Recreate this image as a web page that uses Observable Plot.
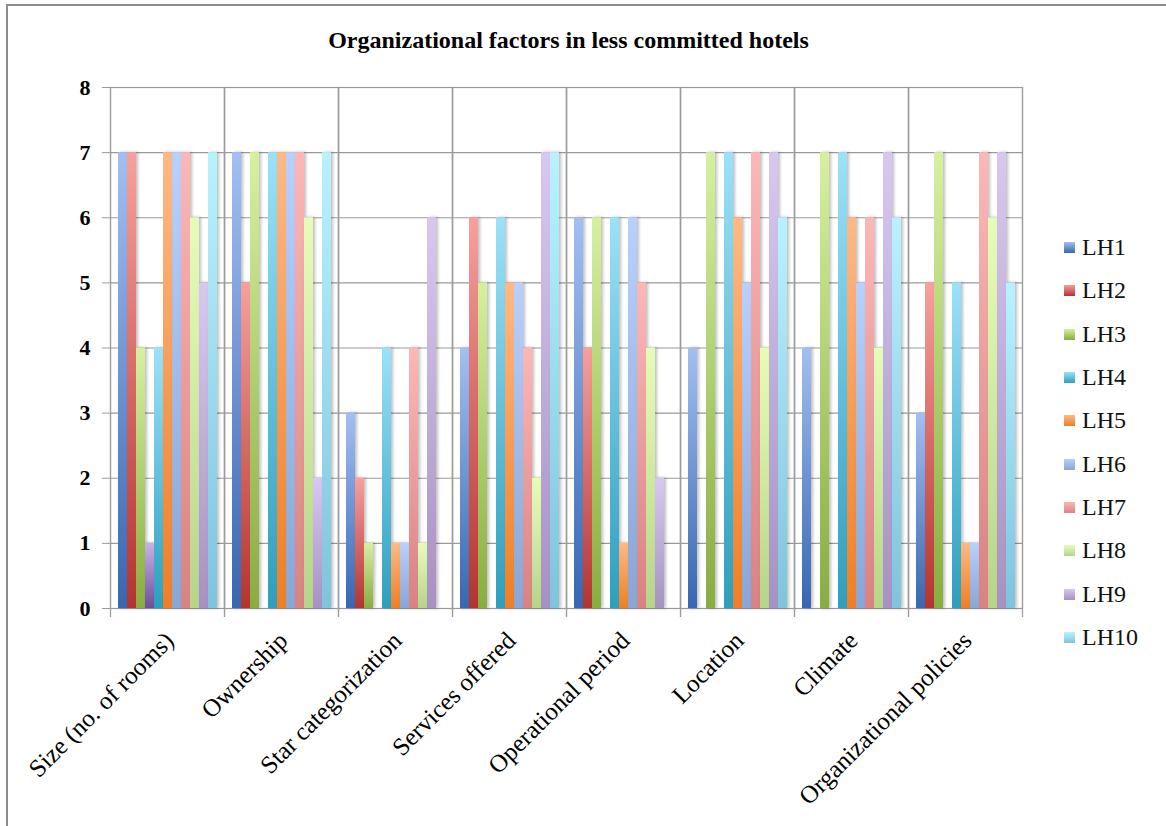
<!DOCTYPE html>
<html>
<head>
<meta charset="utf-8">
<script src="https://cdn.jsdelivr.net/npm/d3@7"></script>
<script src="https://cdn.jsdelivr.net/npm/@observablehq/plot@0.6"></script>
<style>
  html, body { margin: 0; padding: 0; background: #fff; }
  #wrap { position: relative; width: 1166px; height: 826px; overflow: hidden; font-family: "Liberation Serif", "DejaVu Serif", serif; }
  #border { position: absolute; left: 6px; top: 4px; width: 1200px; height: 900px; border: 2px solid #8c8c8c; box-sizing: border-box; }
  #title { position: absolute; left: 0; width: 1137px; top: 27px; text-align: center; font-family: "Liberation Serif", "DejaVu Serif", serif; font-weight: bold; font-size: 24px; color: #000; }
  #chart { position: absolute; left: 0; top: 0; }
  #legend { position: absolute; left: 1064px; top: 226px; font-family: "Liberation Serif", "DejaVu Serif", serif; }
  .lrow { height: 43.3px; display: flex; align-items: center; font-family: "Liberation Serif", "DejaVu Serif", serif; font-size: 24px; color: #111; }
  .sw { width: 11px; height: 11px; margin-right: 7px; }
</style>
</head>
<body>
<div id="wrap">
  <div id="border"></div>
  <div id="title"></div>
  <div id="chart"></div>
  <div id="legend"></div>
</div>
<script>
const chartTitle = "Organizational factors in less committed hotels";
const factors = ["Size (no. of rooms)", "Ownership", "Star categorization", "Services offered",
                 "Operational period", "Location", "Climate", "Organizational policies"];
// Series in drawing order; the 4th (purple) series has no legend entry in the original.
const seriesNames = ["LH1", "LH2", "LH3", "(unlabelled)", "LH4", "LH5", "LH6", "LH7", "LH8", "LH9", "LH10"];
const legendNames = ["LH1", "LH2", "LH3", "LH4", "LH5", "LH6", "LH7", "LH8", "LH9", "LH10"];
const yTicks = [0, 1, 2, 3, 4, 5, 6, 7, 8];

const LH1  = [7, 7, 3, 4, 6, 4, 4, 3];
const LH2  = [7, 5, 2, 6, 4, 0, 0, 5];
const LH3  = [4, 7, 1, 5, 6, 7, 7, 7];
const unlabelled = [1, 0, 0, 0, 0, 0, 0, 0];
const LH4  = [4, 7, 4, 6, 6, 7, 7, 5];
const LH5  = [7, 7, 1, 5, 1, 6, 6, 1];
const LH6  = [7, 7, 1, 5, 6, 5, 5, 1];
const LH7  = [7, 7, 4, 4, 5, 7, 6, 7];
const LH8  = [6, 6, 1, 2, 4, 4, 4, 6];
const LH9  = [5, 2, 6, 7, 2, 7, 7, 7];
const LH10 = [7, 7, 0, 7, 0, 6, 6, 5];
const seriesValues = [LH1, LH2, LH3, unlabelled, LH4, LH5, LH6, LH7, LH8, LH9, LH10];

// gradient colours [bottom, top]
const gradColors = [
  ["#3767b0", "#a3bff2"],
  ["#b5332f", "#f7a09d"],
  ["#88ad40", "#d6f0a0"],
  ["#6e4e9c", "#c9b3e3"],
  ["#2d9fbe", "#9be1f9"],
  ["#ef7f25", "#feb985"],
  ["#88a6d6", "#b8d0fc"],
  ["#d98282", "#fcb7b7"],
  ["#b7d48b", "#e6fdba"],
  ["#a692c2", "#d8c8f0"],
  ["#7fc4dc", "#b8f2ff"]
];

const rows = [];
seriesNames.forEach((s, i) => {
  factors.forEach((f, j) => rows.push({factor: f, series: s, value: seriesValues[i][j], idx: i}));
});

document.getElementById("title").textContent = chartTitle;

const barMarks = seriesNames.map((s, i) =>
  Plot.barY(rows.filter(d => d.series === s && d.value > 0), {
    fx: "factor", x: "series", y: "value", fill: `url(#grad${i})`
  })
);

const plot = Plot.plot({
  width: 1040,
  height: 826,
  marginLeft: 110,
  marginRight: 18,
  marginTop: 87,
  marginBottom: 218,
  style: {fontFamily: "'Liberation Serif', serif", background: "transparent", color: "#000"},
  fx: {domain: factors, padding: 0, axis: null},
  x: {domain: seriesNames, paddingInner: 0, paddingOuter: 0.79, axis: null},
  y: {domain: [0, 8], axis: null},
  marks: [
    Plot.gridY(yTicks, {stroke: "#9a9a9a", strokeOpacity: 1, strokeWidth: 1.2}),
    Plot.frame({stroke: "#9a9a9a", strokeWidth: 1.2}),
    Plot.frame({anchor: "left", stroke: "#9a9a9a", strokeWidth: 1.2, insetBottom: -8}),
    Plot.frame({anchor: "right", stroke: "#9a9a9a", strokeWidth: 1.2, insetBottom: -8}),
    ...barMarks,
    Plot.axisY(yTicks, {label: null, tickSize: 8, tickPadding: 12, fontSize: 22, fontWeight: "bold", stroke: "#9a9a9a", tickFormat: d => String(d)}),
    Plot.axisFx({anchor: "bottom", label: null, tickSize: 0, tickPadding: 22, dy: 6, dx: 2, tickRotate: -45, fontSize: 25})
  ]
});

// gradients + shadow
const svg = d3.select(plot);
const defs = svg.insert("defs", ":first-child");
gradColors.forEach((c, i) => {
  const g = defs.append("linearGradient").attr("id", `grad${i}`)
    .attr("x1", 0).attr("y1", 1).attr("x2", 0).attr("y2", 0);
  g.append("stop").attr("offset", "0%").attr("stop-color", c[0]);
  g.append("stop").attr("offset", "100%").attr("stop-color", c[1]);
});
const f = defs.append("filter").attr("id", "shadow").attr("x", "-50%").attr("y", "-10%").attr("width", "200%").attr("height", "120%");
f.append("feDropShadow").attr("dx", 2).attr("dy", 0).attr("stdDeviation", 1.5).attr("flood-color", "#000").attr("flood-opacity", 0.25);
svg.selectAll('g[aria-label="bar"]').attr("filter", "url(#shadow)");

document.getElementById("chart").appendChild(plot);

// legend
const legend = d3.select("#legend");
legendNames.forEach(name => {
  const i = seriesNames.indexOf(name);
  const row = legend.append("div").attr("class", "lrow");
  row.append("div").attr("class", "sw")
    .style("background", `linear-gradient(to top, ${gradColors[i][0]}, ${gradColors[i][1]})`);
  row.append("span").text(name);
});
</script>
</body>
</html>
